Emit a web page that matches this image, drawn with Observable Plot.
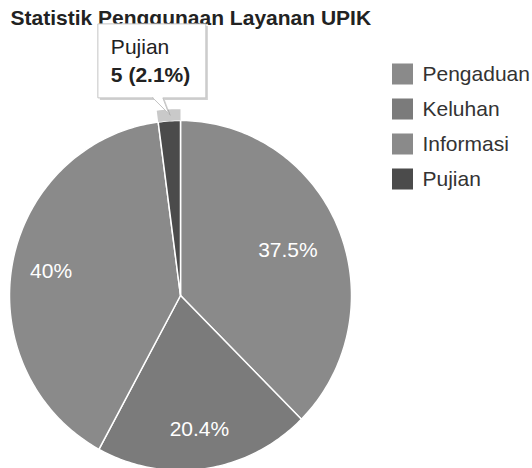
<!DOCTYPE html>
<html>
<head>
<meta charset="utf-8">
<script src="https://cdn.jsdelivr.net/npm/d3@7"></script>
<script src="https://cdn.jsdelivr.net/npm/@observablehq/plot@0.6"></script>
<style>
  html, body { margin: 0; padding: 0; background: #fff; }
  #chart svg { display: block; }
</style>
</head>
<body>
<div id="chart"></div>
<script>
// ---- data ----
const title = "Statistik Penggunaan Layanan UPIK";
const categories = ["Pengaduan", "Keluhan", "Informasi", "Pujian"];
const values = [90, 49, 96, 5];
const colors = ["#8a8a8a", "#7b7b7b", "#8a8a8a", "#4b4b4b"];
const highlighted = "Pujian";

// ---- layout ----
const W = 532, H = 468;
const cx = 180, cy = 295, Rx = 171, Ry = 175;
const px2x = p => (p - cx) / Rx;
const py2y = p => (cy - p) / Ry;
const font = "'Liberation Sans', Arial, sans-serif";
const labelRadius = {Pengaduan: 0.68, Keluhan: 0.77, Informasi: 0.77, Pujian: 0.77};

const total = d3.sum(values);
const fmtPct = d3.format(".1~f");
const arcs = d3.pie().sort(null)(values).map((a, i) => ({...a, cat: categories[i]}));

function arcPts(a0, a1, r) {
  const n = Math.max(2, Math.ceil((a1 - a0) / (Math.PI / 180)));
  const pts = [];
  for (let k = 0; k <= n; k++) {
    const a = a0 + (a1 - a0) * k / n;
    pts.push([r * Math.sin(a), r * Math.cos(a)]);
  }
  return pts;
}

// slice polygons
const sliceRows = [];
arcs.forEach(a => {
  const pts = [[0, 0], ...arcPts(a.startAngle, a.endAngle, 1), [0, 0]];
  pts.forEach(([x, y]) => sliceRows.push({cat: a.cat, x, y}));
});

// highlight ring for hovered slice
const hl = arcs.find(a => a.cat === highlighted);
const ringPts = [...arcPts(hl.startAngle, hl.endAngle, 1.065), ...arcPts(hl.startAngle, hl.endAngle, 1.0).reverse()];
ringPts.push(ringPts[0]);
const ringRows = ringPts.map(([x, y]) => ({x, y}));

// slice labels
const labelRows = arcs.filter(a => a.value / total > 0.05).map(a => {
  const m = (a.startAngle + a.endAngle) / 2, r = labelRadius[a.cat];
  return {x: r * Math.sin(m), y: r * Math.cos(m), text: fmtPct(a.value / total * 100) + "%"};
});

// tooltip geometry (pixel offsets from pointer tip)
const hm = (hl.startAngle + hl.endAngle) / 2;
const tipX = cx + 1.04 * Rx * Math.sin(hm), tipY = cy - 1.04 * Ry * Math.cos(hm);
const boxOff = [[-16, -16], [-71, -16], [-71, -90], [37, -90], [37, -16], [-6, -16], [0, 0], [-16, -16]];
const boxRows = boxOff.map(([dx, dy]) => ({x: px2x(tipX + dx), y: py2y(tipY + dy)}));
const tipName = [{x: px2x(tipX - 58), y: py2y(tipY - 66.5), text: hl.cat}];
const tipValue = [{x: px2x(tipX - 58), y: py2y(tipY - 38.5), text: `${hl.value} (${fmtPct(hl.value / total * 100)}%)`}];

// legend
const legendRows = categories.map((c, i) => ({
  c,
  x1: px2x(392), x2: px2x(413),
  y1: py2y(63.5 + 35 * i), y2: py2y(84.5 + 35 * i),
  tx: px2x(422), ty: py2y(74 + 35 * i)
}));

const chart = Plot.plot({
  width: W, height: H,
  margin: 0,
  style: {fontFamily: font, background: "#fff"},
  x: {domain: [-1, 1], range: [cx - Rx, cx + Rx], axis: null},
  y: {domain: [-1, 1], range: [cy + Ry, cy - Ry], axis: null},
  color: {domain: categories, range: colors},
  marks: [
    Plot.text([title], {
      frameAnchor: "top-left", dx: 10, dy: 10, text: d => d, lineAnchor: "top",
      textAnchor: "start", fontSize: 21, fontWeight: "bold", fill: "#222"
    }),
    Plot.line(sliceRows, {x: "x", y: "y", z: "cat", fill: "cat", stroke: "#fff", strokeWidth: 1.5, curve: "linear-closed"}),
    Plot.line(ringRows, {x: "x", y: "y", fill: "#c9c9c9", stroke: "none", curve: "linear-closed"}),
    Plot.text(labelRows, {x: "x", y: "y", text: "text", fill: "#fff", fontSize: 21, lineAnchor: "middle", textAnchor: "middle"}),
    // tooltip
    Plot.line(boxRows, {x: "x", y: "y", dx: 2, dy: 2, fill: "#000", fillOpacity: 0.18, stroke: "none", curve: "linear-closed"}),
    Plot.line(boxRows, {x: "x", y: "y", fill: "#fff", stroke: "#c4c4c4", strokeWidth: 1, curve: "linear-closed"}),
    Plot.text(tipName, {x: "x", y: "y", text: "text", fontSize: 21, fill: "#222", textAnchor: "start", lineAnchor: "middle"}),
    Plot.text(tipValue, {x: "x", y: "y", text: "text", fontSize: 21, fontWeight: "bold", fill: "#222", textAnchor: "start", lineAnchor: "middle"}),
    // legend
    Plot.rect(legendRows, {x1: "x1", x2: "x2", y1: "y1", y2: "y2", fill: "c", inset: 0}),
    Plot.text(legendRows, {x: "tx", y: "ty", text: "c", fontSize: 21, fill: "#333", textAnchor: "start", lineAnchor: "middle"})
  ]
});
document.getElementById("chart").appendChild(chart);
</script>
</body>
</html>
